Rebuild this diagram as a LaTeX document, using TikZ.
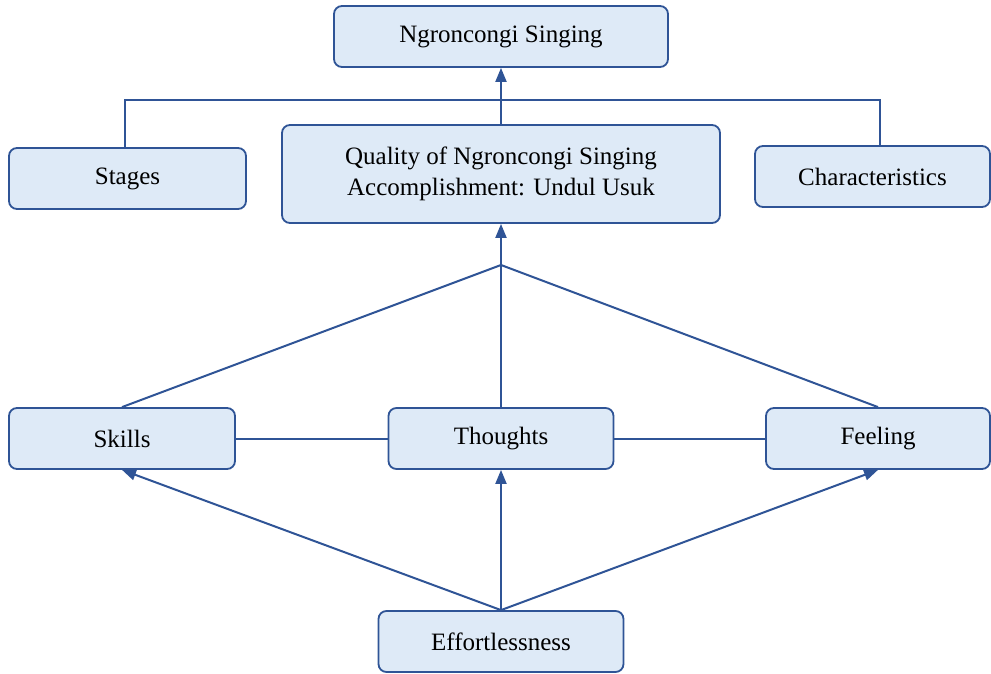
\documentclass[tikz,border=0pt]{standalone}
\usepackage{fontspec}
\setmainfont{Liberation Serif}
\usetikzlibrary{arrows.meta}
\definecolor{boxfill}{RGB}{222,234,247}
\definecolor{boxline}{RGB}{47,84,150}

\begin{document}
\begin{tikzpicture}[x=1pt,y=-1pt,
        box/.style={draw=boxline,fill=boxfill,line width=1.8pt,rounded corners=8pt,
            minimum height=61pt,inner sep=0pt,align=center,
            font=\fontsize{25}{31}\selectfont},
        link/.style={draw=boxline,line width=2pt},
        arrow/.style={link,-{Triangle[length=14pt,width=11pt]}}]
        \useasboundingbox (0,0) rectangle (991,674);

        \node[box,minimum width=334pt] (singing) at (501,36.5) {Ngroncongi Singing};
        \node[box,minimum width=237pt] (stages) at (127.5,178.5) {Stages};
        \node[box,minimum width=438pt,minimum height=98pt] (quality) at (501,174)
            {Quality of Ngroncongi Singing\\Accomplishment: Undul Usuk};
        \node[box,minimum width=235pt] (traits) at (872.5,176.5) {Characteristics};

        \node[box,minimum width=226pt] (skills) at (122,438.5) {Skills};
        \node[box,minimum width=225pt] (thoughts) at (501,438.5) {Thoughts};
        \node[box,minimum width=224pt] (feeling) at (878,438.5) {Feeling};
        \node[box,minimum width=245pt] (effort) at (501,641.5) {Effortlessness};

        \coordinate (join) at (501,265);

        % upper part
        \draw[link] ([xshift=-2.5pt]stages.north) -- ++(0,-47) -| ([xshift=7.5pt]traits.north);
        \draw[arrow] (quality.north) -- (singing.south);

        % middle part
        \draw[link] (skills.north) -- (join);
        \draw[link] (feeling.north) -- (join);
        \draw[link] (thoughts.north) -- (join);
        \draw[arrow] (join) -- (quality.south);
        \draw[link] (skills.east) -- (thoughts.west);
        \draw[link] (thoughts.east) -- (feeling.west);

        % lower part
        \draw[arrow] (effort.north) -- (skills.south);
        \draw[arrow] (effort.north) -- (thoughts.south);
        \draw[arrow] (effort.north) -- (feeling.south);
    \end{tikzpicture}
\end{document}
